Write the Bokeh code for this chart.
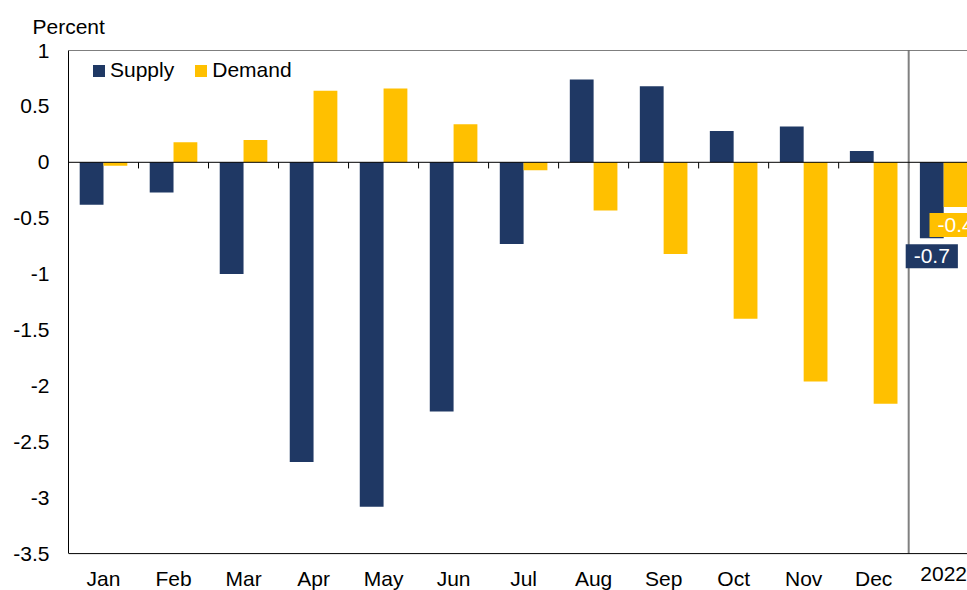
from bokeh.plotting import figure
from bokeh.models import (Range1d, FixedTicker, Span, Legend, LegendItem, Label,
                          ColumnDataSource, NumeralTickFormatter)
from bokeh.core.properties import value
from bokeh.embed import file_html
from bokeh.resources import INLINE

# ---- data ----
categories = ["Jan", "Feb", "Mar", "Apr", "May", "Jun", "Jul", "Aug", "Sep",
              "Oct", "Nov", "Dec", "2022"]
supply = [-0.38, -0.27, -1.00, -2.68, -3.08, -2.23, -0.73, 0.74, 0.68, 0.28, 0.32, 0.10, -0.68]
demand = [-0.03, 0.18, 0.20, 0.64, 0.66, 0.34, -0.07, -0.43, -0.82, -1.40, -1.96, -2.16, -0.40]
y_ticks = [1, 0.5, 0, -0.5, -1, -1.5, -2, -2.5, -3, -3.5]
y_tick_labels = ["1", "0.5", "0", "-0.5", "-1", "-1.5", "-2", "-2.5", "-3", "-3.5"]
y_title = "Percent"

# ---- style ----
FONT = "Liberation Sans"
FS = "21px"
NAVY = "#1F3864"
GOLD = "#FFC000"
n = len(categories)
centers = [i + 0.5 for i in range(n)]
off = 0.17
bar_w = 0.34
y_top = max(y_ticks)
y_bot = min(y_ticks)

src = ColumnDataSource(dict(
    xs=[c - off for c in centers], xd=[c + off for c in centers],
    supply=supply, demand=demand))

p = figure(width=967, height=590,
           x_range=Range1d(0, 12.84), y_range=Range1d(-3.83, y_top),
           output_backend="svg", toolbar_location=None,
           x_axis_location=None,
           min_border_left=68, min_border_right=0,
           min_border_top=50, min_border_bottom=0)
p.outline_line_color = None
p.xgrid.visible = False
p.ygrid.visible = False
p.background_fill_color = "white"

# y axis
ax = p.yaxis[0]
ax.ticker = FixedTicker(ticks=y_ticks)
ax.formatter = NumeralTickFormatter(format="0.[0]")
ax.major_label_overrides = {float(t): l for t, l in zip(y_ticks, y_tick_labels)}
ax.bounds = (y_bot, y_top)
ax.axis_line_color = "black"
ax.axis_line_width = 1
ax.major_tick_line_color = None
ax.minor_tick_line_color = None
ax.major_tick_out = 0
ax.major_tick_in = 0
ax.minor_tick_out = 0
ax.major_label_standoff = 19
ax.major_label_text_font = FONT
ax.major_label_text_font_size = FS
ax.major_label_text_color = "black"

# title ("Percent") above the y axis
p.title.text = y_title
p.title.text_font = FONT
p.title.text_font_size = FS
p.title.text_font_style = "normal"
p.title.text_color = "black"
p.title.align = "left"
p.title.offset = -36
p.title.standoff = 25

# bars
r1 = p.vbar(x="xs", top="supply", bottom=0, width=bar_w, source=src,
            fill_color=NAVY, line_color=None)
r2 = p.vbar(x="xd", top="demand", bottom=0, width=bar_w, source=src,
            fill_color=GOLD, line_color=None)

# frame lines
p.add_layout(Span(location=y_top, dimension="width", line_color="black", line_width=1))
p.add_layout(Span(location=y_bot, dimension="width", line_color="black", line_width=1))
p.add_layout(Span(location=0, dimension="width", line_color="black", line_width=1))
bounds_x = list(range(n))
p.segment(x0=bounds_x, y0=[0] * len(bounds_x), x1=bounds_x, y1=[-0.055] * len(bounds_x),
          line_color="black", line_width=1)
p.segment(x0=[n - 1], y0=[y_bot], x1=[n - 1], y1=[y_top], line_color="#808080", line_width=2)

# category labels
p.text(x=centers, y=[y_bot] * n, text=categories, text_align="center",
       text_baseline="top", y_offset=13, text_font=value(FONT),
       text_font_size=FS, text_color="black")

# value labels on the last category
p.add_layout(Label(x=centers[-1] - off, y=supply[-1], text=f"{supply[-1]:.1f}",
                   text_align="center", text_baseline="top", y_offset=-6,
                   text_font=FONT, text_font_size=FS, text_color="white",
                   background_fill_color=NAVY, padding=(8, 5)))
p.add_layout(Label(x=centers[-1] + off, y=demand[-1], text=f"{demand[-1]:.1f}",
                   text_align="center", text_baseline="top", y_offset=-6,
                   text_font=FONT, text_font_size=FS, text_color="white",
                   background_fill_color=GOLD, padding=(8, 5)))

# legend
legend = Legend(items=[LegendItem(label="Supply", renderers=[r1]),
                       LegendItem(label="Demand", renderers=[r2])],
                orientation="horizontal", location=(23, 508),
                padding=0, margin=0, spacing=19, label_standoff=4,
                glyph_width=15, glyph_height=15,
                border_line_color=None, background_fill_alpha=0,
                label_text_font=FONT, label_text_font_size=FS, label_text_color="black")
p.add_layout(legend)

open("out.html", "w").write(file_html(p, INLINE))
